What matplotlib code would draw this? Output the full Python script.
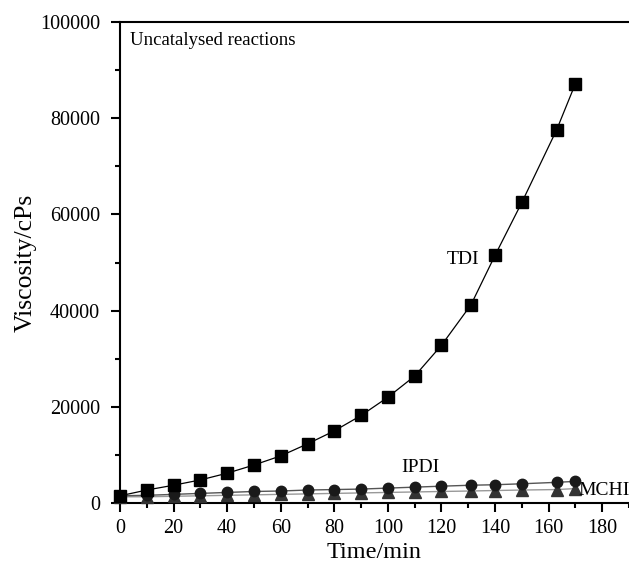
"""Viscosity vs time for uncatalysed isocyanate reactions."""

import matplotlib
matplotlib.use("Agg")
import matplotlib.pyplot as plt
from matplotlib.ticker import MultipleLocator

time_min = [0, 10, 20, 30, 40, 50, 60, 70, 80, 90, 100, 110, 120, 131, 140, 150, 163, 170]
tdi = [1500, 2700, 3700, 4800, 6200, 7900, 9800, 12300, 15000, 18200,
       22000, 26400, 32800, 41200, 51500, 62500, 77600, 87200]
ipdi = [1500, 1600, 1800, 2000, 2200, 2400, 2500, 2700, 2800, 2900,
        3100, 3300, 3500, 3700, 3800, 4000, 4300, 4500]
mchi = [1300, 1300, 1400, 1500, 1600, 1700, 1800, 1900, 2000, 2100,
        2200, 2300, 2400, 2500, 2600, 2700, 2800, 3000]

plt.rcParams["font.family"] = ["Liberation Serif", "DejaVu Serif"]

fig = plt.figure(figsize=(6.29, 5.65), dpi=100)
ax = fig.add_axes([0.1908, 0.1097, 0.8092, 0.8513])

ax.plot(time_min, mchi, color="#999999", linewidth=1.0, marker="^", markersize=8,
        markerfacecolor="#333333", markeredgecolor="#333333", clip_on=False, zorder=3)
ax.plot(time_min, ipdi, color="#555555", linewidth=1.0, marker="o", markersize=7.5,
        markerfacecolor="#1a1a1a", markeredgecolor="#1a1a1a", clip_on=False, zorder=4)
ax.plot(time_min, tdi, color="black", linewidth=0.9, marker="s", markersize=8,
        markerfacecolor="black", markeredgecolor="black", clip_on=False, zorder=5)

ax.set_xlim(0, 190)
ax.set_ylim(0, 100000)
ax.xaxis.set_minor_locator(MultipleLocator(10))
ax.yaxis.set_major_locator(MultipleLocator(20000))
ax.yaxis.set_minor_locator(MultipleLocator(10000))
ax.set_xticks(range(0, 181, 20))
ax.tick_params(which="major", direction="out", length=6.5, width=1.5, labelsize=14.5)
ax.tick_params(which="minor", direction="out", length=3.5, width=1.5)
ax.tick_params(axis="x", which="major", pad=5)
ax.tick_params(axis="y", which="major", pad=8)

for side in ("left", "bottom", "top"):
    ax.spines[side].set_linewidth(1.5)
ax.spines["right"].set_visible(False)

ax.set_xlabel("Time/min", fontsize=17.5, labelpad=3)
ax.set_ylabel("Viscosity/cPs", fontsize=18.5, labelpad=2)

ax.text(0.02, 0.98, "Uncatalysed reactions", transform=ax.transAxes,
        fontsize=13.5, va="top", ha="left")
ax.text(128, 50600, "TDI", fontsize=14, ha="center", va="center")
ax.text(112, 7300, "IPDI", fontsize=14, ha="center", va="center")
ax.text(171, 2700, "MCHI", fontsize=14, ha="left", va="center", clip_on=False)

fig.savefig("out.png", dpi=100)
